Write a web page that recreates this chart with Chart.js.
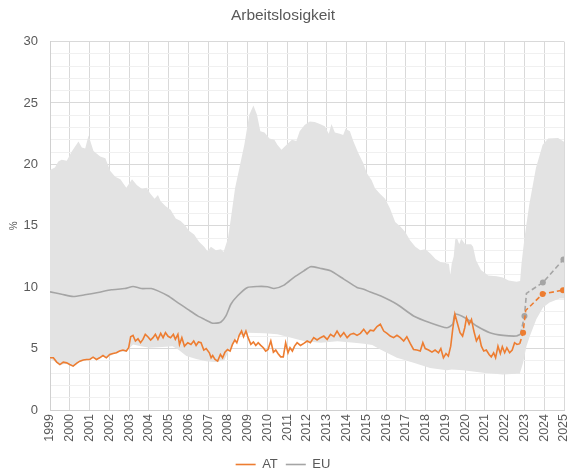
<!DOCTYPE html>
<html>
<head>
<meta charset="utf-8">
<script src="https://cdn.jsdelivr.net/npm/chart.js@4/dist/chart.umd.min.js"></script>
<style>
html,body{margin:0;padding:0;background:#fff;}
#wrap{width:568px;height:474px;}
</style>
</head>
<body>
<div id="wrap"><canvas id="c" width="568" height="474"></canvas></div>
<script>
// ---- data (year as decimal, value in %) ----
const chartTitle = 'Arbeitslosigkeit';
const yTitle = '%';
const xMin = 1999, xMax = 2025;
const yMin = 0, yMax = 30;

const atActual = [
[1999.0,4.25],[1999.17,4.25],[1999.34,3.9],[1999.5,3.7],[1999.67,3.9],[1999.84,3.84],
[2000.0,3.7],[2000.17,3.57],[2000.34,3.8],[2000.51,3.98],[2000.68,4.07],[2000.85,4.11],
[2001.01,4.11],[2001.18,4.3],[2001.35,4.11],[2001.51,4.25],[2001.68,4.44],[2001.85,4.25],
[2002.02,4.52],[2002.19,4.6],[2002.36,4.66],[2002.52,4.8],[2002.69,4.88],[2002.86,4.8],
[2002.98,5.07],[2003.08,5.97],[2003.2,6.08],[2003.32,5.62],[2003.45,5.8],[2003.58,5.48],
[2003.7,5.75],[2003.82,6.16],[2003.95,5.97],[2004.09,5.7],[2004.21,5.89],[2004.33,6.16],
[2004.46,5.75],[2004.6,6.24],[2004.72,5.89],[2004.84,6.3],[2004.97,6.0],[2005.1,5.89],
[2005.24,6.16],[2005.34,5.75],[2005.47,6.16],[2005.55,5.34],[2005.67,5.89],[2005.8,5.2],
[2005.97,5.48],[2006.13,5.34],[2006.27,5.62],[2006.39,5.26],[2006.51,5.54],[2006.64,5.48],
[2006.78,4.88],[2006.9,5.0],[2007.06,4.66],[2007.15,4.25],[2007.23,4.44],[2007.35,4.11],
[2007.48,3.98],[2007.62,4.52],[2007.73,4.25],[2007.85,4.71],[2007.98,4.93],[2008.11,4.8],
[2008.23,5.34],[2008.35,5.7],[2008.45,5.48],[2008.57,6.08],[2008.69,6.43],[2008.79,5.97],
[2008.91,6.43],[2009.02,5.89],[2009.16,5.34],[2009.29,5.54],[2009.41,5.26],[2009.53,5.48],
[2009.66,5.26],[2009.79,5.07],[2009.91,4.8],[2010.03,4.93],[2010.17,5.62],[2010.3,4.71],
[2010.42,4.88],[2010.53,4.6],[2010.67,4.33],[2010.8,4.33],[2010.92,5.48],[2011.04,4.66],
[2011.14,5.07],[2011.26,4.8],[2011.37,5.2],[2011.5,5.48],[2011.67,5.26],[2011.84,5.42],
[2012.01,5.62],[2012.17,5.48],[2012.34,5.89],[2012.51,5.7],[2012.68,5.89],[2012.85,6.02],
[2013.02,5.75],[2013.19,6.16],[2013.36,5.97],[2013.52,6.43],[2013.69,5.97],[2013.86,6.3],
[2014.03,5.89],[2014.19,6.16],[2014.36,6.24],[2014.53,6.08],[2014.7,6.24],[2014.87,6.57],
[2015.04,6.2],[2015.2,6.5],[2015.37,6.45],[2015.54,6.79],[2015.71,6.98],[2015.88,6.43],
[2016.05,6.24],[2016.21,6.02],[2016.38,5.89],[2016.55,6.08],[2016.72,5.89],[2016.89,5.62],
[2017.05,5.97],[2017.22,5.42],[2017.39,4.93],[2017.56,4.88],[2017.73,4.8],[2017.86,5.48],
[2017.98,5.0],[2018.15,4.88],[2018.32,4.71],[2018.48,4.88],[2018.65,4.66],[2018.77,5.0],
[2018.9,4.25],[2019.03,4.6],[2019.15,4.39],[2019.27,5.2],[2019.37,6.57],[2019.48,7.8],
[2019.6,7.11],[2019.74,6.3],[2019.87,6.02],[2019.98,6.7],[2020.07,7.52],[2020.2,6.98],
[2020.32,7.38],[2020.44,6.43],[2020.57,5.62],[2020.71,6.02],[2020.82,5.2],[2020.94,4.8],
[2021.07,4.88],[2021.21,4.52],[2021.32,4.33],[2021.44,4.66],[2021.54,4.25],[2021.66,5.2],
[2021.78,4.6],[2021.88,5.15],[2022.0,4.66],[2022.11,5.07],[2022.25,4.66],[2022.38,4.88],
[2022.5,5.48],[2022.62,5.34],[2022.76,5.4]
];
const atForecast = [[2022.76,5.4],[2022.93,6.3],[2023.06,8.1],[2023.92,9.45],[2024.95,9.76]];
const atForecastDots = [0,3,0,3,3];

const euActual = [
[1999.0,9.62],[1999.59,9.43],[2000.17,9.24],[2000.76,9.38],[2001.43,9.57],[2002.1,9.79],
[2002.78,9.89],[2003.2,10.06],[2003.62,9.89],[2004.12,9.89],[2004.46,9.7],[2004.96,9.3],
[2005.46,8.75],[2005.97,8.2],[2006.47,7.66],[2006.81,7.38],[2007.15,7.11],[2007.31,7.06],
[2007.65,7.17],[2007.9,7.66],[2008.15,8.61],[2008.49,9.3],[2008.99,9.98],[2009.5,10.06],
[2010.0,10.04],[2010.33,9.89],[2010.84,10.17],[2011.34,10.8],[2011.85,11.34],[2012.18,11.67],
[2012.69,11.53],[2013.19,11.34],[2013.86,10.66],[2014.53,9.98],[2014.87,9.84],[2015.2,9.6],
[2015.71,9.3],[2016.55,8.61],[2017.39,7.66],[2018.23,7.11],[2019.07,6.7],[2019.37,6.98],
[2019.48,7.8],[2019.82,7.66],[2020.24,7.25],[2020.58,6.84],[2021.25,6.3],[2021.92,6.08],
[2022.59,6.02],[2022.8,6.16]
];
const euForecast = [[2022.8,6.16],[2023.0,7.66],[2023.1,9.5],[2023.93,10.38],[2024.97,12.26]];
const euForecastDots = [0,3,0,3,3];

const bandMax = [
[1999.0,19.55],[1999.25,19.74],[1999.42,20.23],[1999.59,20.37],[1999.85,20.3],[2000.1,21.05],
[2000.44,21.87],[2000.61,21.38],[2000.78,21.3],[2000.95,22.36],[2001.2,21.1],[2001.54,20.64],
[2001.8,20.5],[2002.05,19.47],[2002.3,19.0],[2002.56,18.8],[2002.86,18.1],[2003.15,18.8],
[2003.4,18.3],[2003.66,18.0],[2003.88,18.1],[2004.08,17.6],[2004.29,17.2],[2004.46,17.5],
[2004.6,17.0],[2004.85,16.6],[2005.1,16.3],[2005.36,15.6],[2005.61,15.4],[2005.83,15.05],
[2006.03,14.6],[2006.29,14.3],[2006.54,13.7],[2006.8,13.3],[2006.97,12.93],[2007.14,13.3],
[2007.39,13.0],[2007.65,13.1],[2007.78,12.87],[2008.0,13.96],[2008.15,15.6],[2008.36,18.05],
[2008.58,19.7],[2008.83,21.6],[2009.08,24.05],[2009.29,24.8],[2009.47,24.05],[2009.64,22.7],
[2009.85,22.6],[2010.1,22.1],[2010.35,22.0],[2010.5,21.6],[2010.71,21.2],[2011.03,21.7],
[2011.24,22.0],[2011.46,21.9],[2011.63,22.7],[2011.88,23.2],[2012.14,23.5],[2012.39,23.45],
[2012.65,23.3],[2012.9,23.1],[2013.1,22.5],[2013.24,23.3],[2013.41,22.6],[2013.66,22.5],
[2013.83,22.4],[2013.95,22.9],[2014.17,22.7],[2014.34,21.9],[2014.6,20.9],[2014.85,20.1],
[2015.02,19.3],[2015.27,18.7],[2015.44,18.05],[2015.69,17.6],[2015.95,17.2],[2016.2,16.4],
[2016.46,15.3],[2016.71,14.97],[2016.97,14.5],[2017.22,13.8],[2017.48,13.3],[2017.73,13.0],
[2017.99,13.1],[2018.24,12.74],[2018.5,12.3],[2018.75,12.06],[2019.0,11.95],[2019.18,11.9],
[2019.25,11.0],[2019.32,11.9],[2019.42,12.5],[2019.5,13.9],[2019.6,13.95],[2019.7,13.5],
[2019.8,13.95],[2020.0,13.5],[2020.3,13.5],[2020.4,13.3],[2020.55,12.2],[2020.8,11.4],
[2021.17,10.95],[2021.6,10.9],[2021.9,10.8],[2022.2,10.55],[2022.6,10.45],[2022.78,10.5],
[2022.85,11.9],[2023.0,14.0],[2023.24,16.7],[2023.58,19.7],[2023.92,21.6],[2024.2,22.1],
[2024.7,22.15],[2025.0,21.85]
];
const bandMin = [
[1999.0,4.2],[1999.34,3.85],[1999.5,3.65],[1999.84,3.8],[2000.17,3.52],[2000.51,3.93],
[2000.85,4.06],[2001.18,4.25],[2001.35,4.06],[2001.68,4.4],[2001.85,4.2],[2002.19,4.55],
[2002.52,4.75],[2002.86,4.75],[2003.0,5.0],[2003.2,5.34],[2003.6,5.2],[2004.04,5.07],
[2004.5,5.1],[2005.2,5.2],[2005.5,4.9],[2005.9,4.39],[2006.4,4.15],[2006.9,3.98],
[2007.4,3.9],[2007.82,4.05],[2008.07,4.93],[2008.5,6.0],[2009.0,6.3],[2009.86,6.25],
[2010.5,6.17],[2011.2,5.89],[2011.87,5.6],[2012.7,5.48],[2013.54,5.6],[2014.38,5.48],
[2014.89,5.4],[2015.3,5.3],[2015.71,4.93],[2016.55,4.25],[2017.39,3.84],[2018.23,3.43],
[2019.07,3.24],[2019.32,3.3],[2019.9,3.24],[2020.9,3.03],[2021.9,2.89],[2022.6,2.95],
[2022.76,2.95],[2022.93,3.84],[2023.1,5.2],[2023.27,6.0],[2023.6,7.38],[2023.94,8.34],
[2024.27,8.75],[2024.78,9.07],[2025.0,9.07]
];

// ---- styles ----
const ORANGE = '#ed7d31';
const GREY = '#a5a5a5';
const BAND = '#e3e3e3';
const TXT = '#595959';
const FONT = "'Liberation Sans', Arial, sans-serif";

const toXY = a => a.map(p => ({x: p[0], y: p[1]}));

new Chart(document.getElementById('c'), {
  type: 'line',
  data: {
    datasets: [
      {label: 'AT', data: toXY(atActual), borderColor: ORANGE, backgroundColor: ORANGE,
       borderWidth: 1.6, pointRadius: 0, tension: 0, fill: false, order: 1},
      {label: 'EU', data: toXY(euActual), borderColor: GREY, backgroundColor: GREY,
       borderWidth: 1.6, pointRadius: 0, tension: 0.2, fill: false, order: 2},
      {label: 'AT_f', data: toXY(atForecast), borderColor: ORANGE, backgroundColor: ORANGE,
       borderWidth: 1.6, borderDash: [5, 3], pointRadius: atForecastDots, pointBorderWidth: 0,
       tension: 0, fill: false, order: 1},
      {label: 'EU_f', data: toXY(euForecast), borderColor: GREY, backgroundColor: GREY,
       borderWidth: 1.6, borderDash: [5, 3], pointRadius: euForecastDots, pointBorderWidth: 0,
       tension: 0, fill: false, order: 2},
      {label: 'max', data: toXY(bandMax), borderWidth: 0, borderColor: 'rgba(0,0,0,0)',
       backgroundColor: BAND, pointRadius: 0, tension: 0, fill: '+1', order: 10},
      {label: 'min', data: toXY(bandMin), borderWidth: 0, borderColor: 'rgba(0,0,0,0)',
       backgroundColor: BAND, pointRadius: 0, tension: 0, fill: false, order: 11}
    ]
  },
  options: {
    responsive: false,
    animation: false,
    events: [],
    layout: {padding: {left: 0, right: 2, top: 0, bottom: -7}},
    plugins: {
      title: {display: true, text: chartTitle, color: TXT,
              font: {family: FONT, size: 15.5, weight: 'normal'}, padding: {top: 6, bottom: 17}},
      legend: {display: true, position: 'bottom',
        labels: {color: TXT, font: {family: FONT, size: 13}, usePointStyle: true,
                 pointStyle: 'line', pointStyleWidth: 20, padding: 8,
                 filter: item => item.text === 'AT' || item.text === 'EU'}},
      tooltip: {enabled: false}
    },
    scales: {
      x: {type: 'linear', min: xMin, max: xMax,
          ticks: {stepSize: 1, autoSkip: false, minRotation: 90, maxRotation: 90, color: TXT,
                  font: {family: FONT, size: 12.5}, padding: 4,
                  callback: v => String(v)},
          grid: {color: '#d9d9d9', lineWidth: 1, drawTicks: false},
          border: {color: '#d0d0d0'},
          afterFit: s => { s.paddingRight = 2; s.height = 40; }
      },
      y: {min: yMin, max: yMax,
          ticks: {stepSize: 1, autoSkip: false, color: TXT, font: {family: FONT, size: 13}, padding: 12,
                  callback: v => (v % 5 === 0 ? String(v) : '')},
          grid: {color: ctx => (ctx.tick && ctx.tick.value % 5 === 0 ? '#d9d9d9' : '#f0f0f0'),
                 lineWidth: 1, drawTicks: false},
          border: {color: '#d0d0d0'},
          title: {display: true, text: yTitle, color: TXT, font: {family: FONT, size: 10}, padding: {top: 8, bottom: 0}},
          afterFit: s => { s.width = 50; }
      }
    }
  }
});
</script>
</body>
</html>
